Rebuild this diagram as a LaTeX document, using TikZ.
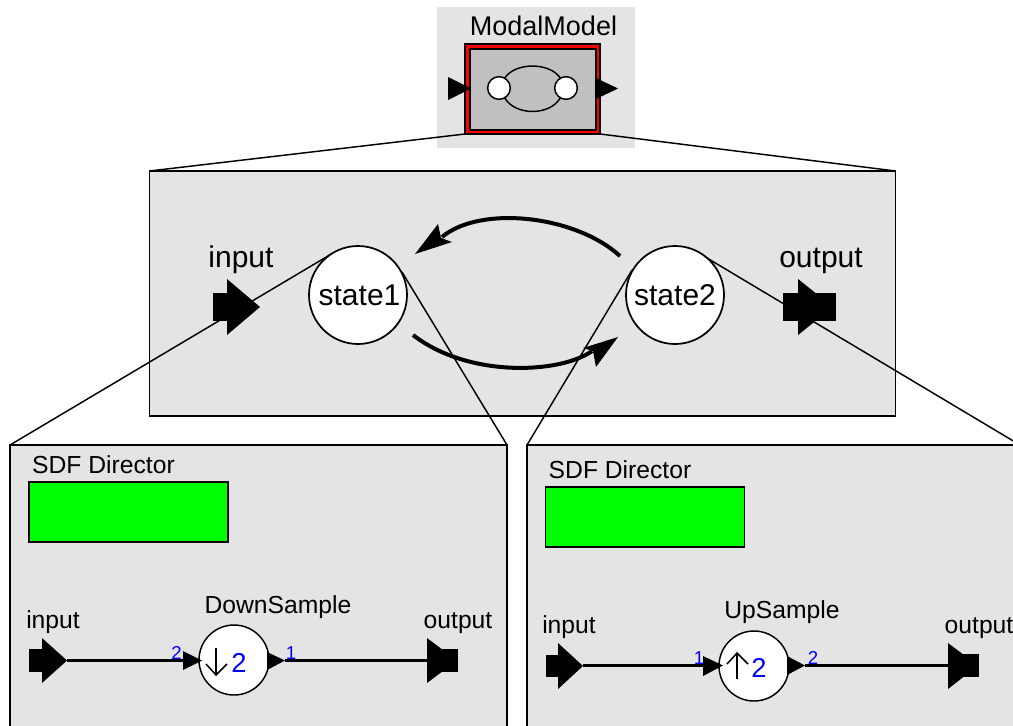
\documentclass[tikz,border=0pt]{standalone}
\usepackage{fontspec}
\setmainfont{Liberation Sans}
\definecolor{panel}{HTML}{E4E4E4}
\definecolor{inner}{HTML}{C0C0C0}
\tikzset{
 panelbox/.style={draw=black,fill=panel,line width=1.1pt,inner sep=0pt,outer sep=0pt},
 dirbox/.style={draw=black,fill=green,line width=1.1pt,inner sep=0pt,outer sep=0pt},
 state/.style={circle,draw=black,fill=white,line width=1.3pt,inner sep=0pt,outer sep=0pt,minimum size=73.5pt},
 actor/.style={circle,draw=black,fill=white,line width=1.1pt,inner sep=0pt,outer sep=0pt,minimum size=52.5pt},
 mini/.style={circle,draw=black,fill=white,line width=1.1pt,inner sep=0pt,outer sep=0pt,minimum size=17pt},
 lblbig/.style={anchor=base,inner sep=0pt,font=\fontsize{22.5}{24}\selectfont},
 lblmid/.style={anchor=base,inner sep=0pt,font=\fontsize{20.25}{22}\selectfont},
 lblsm/.style={anchor=base,inner sep=0pt,font=\fontsize{18.5}{20}\selectfont},
 lblnum/.style={anchor=base,inner sep=0pt,text=blue,font=\fontsize{14}{16}\selectfont},
 lblrate/.style={anchor=base,inner sep=0pt,text=blue,font=\fontsize{20.5}{22}\selectfont},
 thin link/.style={draw=black,line width=1.1pt},
 wire/.style={draw=black,line width=2.4pt},
 transition/.style={draw=black,line width=3pt},
 solid port/.style={fill=black,draw=none},
}
\begin{document}
\begin{tikzpicture}[x=0.75pt,y=-0.75pt]
\useasboundingbox (0,0) rectangle (1013,725);
\clip (0,0) rectangle (1013,725);
% top icon
\fill[panel] (437,7) rectangle (635,148);
% panels, as nodes of measured size
\node[panelbox,minimum width=559.5pt,minimum height=183.75pt] (mid) at (522.5,293.5) {};
\node[panelbox,minimum width=372.75pt,minimum height=225pt] (leftp) at (258.5,595) {};
\node[panelbox,minimum width=369.75pt,minimum height=225pt] (rightp) at (773.5,595) {};
% modal model icon
\node[draw=black,fill=red,line width=1.1pt,inner sep=0pt,outer sep=0pt,minimum width=101.25pt,minimum height=67.5pt] (modal) at (532.5,89) {};
\node[draw=black,fill=inner,line width=1.1pt,inner sep=0pt,minimum width=94.5pt,minimum height=60.75pt] (modalin) at (533,89.5) {};
\fill[solid port] (448,77) -- (471,88.5) -- (448,100) -- cycle;
\fill[solid port] (596,78) -- (618,88.5) -- (596,99) -- cycle;
\node[mini] (ma) at (499,88) {};
\node[mini] (mb) at (566,88) {};
\draw[thin link] (ma.60) .. controls (515,62) and (550,62) .. (mb.120);
\draw[thin link] (ma.-60) .. controls (515,116) and (550,116) .. (mb.-120);
\node[lblmid] (title) at (543.5,35) {ModalModel};
\draw[thin link] (modal.south west) -- (mid.north west);
\draw[thin link] (modal.south east) -- (mid.north east);
% transitions
\coordinate (ts) at (620,256); \coordinate (te) at (442,237);
\coordinate (bs) at (413,335); \coordinate (be) at (592,351);
\draw[transition] (ts) .. controls (575,215) and (480,205) .. (te);
\fill[solid port] (415,254) -- (438,224) -- (441,238) -- (452,242) -- cycle;
\draw[transition] (bs) .. controls (470,379) and (562,373) .. (be);
\fill[solid port] (618,337) -- (583,348) -- (593,351) -- (596,367) -- cycle;
% middle ports
\fill[solid port] (213,293) rectangle (227,321);
\fill[solid port] (227,279) -- (260,307) -- (227,335) -- cycle;
\fill[solid port] (783,293) rectangle (836,321);
\fill[solid port] (798,279) -- (833,307) -- (798,335) -- cycle;
\node[lblbig] (minl) at (241,267) {input};
\node[lblbig] (moutl) at (821,267) {output};
% zoom lines
\coordinate (s1a) at (333,253); \coordinate (s1b) at (402,272);
\coordinate (s2a) at (632,270); \coordinate (s2b) at (707,258);
\draw[thin link] (leftp.north west) -- (s1a);
\draw[thin link] (leftp.north east) -- (s1b);
\draw[thin link] (rightp.north west) -- (s2a);
\draw[thin link] (rightp.north east) -- (s2b);
\node[state] (state1) at (358,295) {};
\node[state] (state2) at (675,295) {};
\node[lblbig] (state1t) at (359.5,305) {state1};
\node[lblbig] (state2t) at (675,305) {state2};
% left panel
\node[dirbox,minimum width=149.25pt,minimum height=45pt] (dirl) at (128.5,512) {};
\node[lblsm] (dirlt) at (103.5,473) {SDF Director};
\fill[solid port] (29,649) rectangle (42,672);
\fill[solid port] (42,638) -- (67,660.5) -- (42,683) -- cycle;
\fill[solid port] (442,649) rectangle (458,672);
\fill[solid port] (427,638) -- (457,660.5) -- (427,683) -- cycle;
\coordinate (lin) at (67,660.5); \coordinate (lout) at (428,660.5);
\coordinate (lai) at (202,660.5); \coordinate (lao) at (285,660.5);
\draw[wire] (lin) -- (lai);
\draw[wire] (lao) -- (lout);
\node[actor] (down) at (234,660) {};
\fill[solid port] (183,651) -- (202,660.5) -- (183,670) -- cycle;
\fill[solid port] (267,652) -- (285,660.5) -- (267,670) -- cycle;
\draw[thin link] (216,648) -- (216,675);
\draw[thin link] (206,664) -- (216,675) -- (227,664);
\node[lblrate] (ldr) at (239,672.5) {2};
\node[lblnum] (ln2) at (176.5,659) {2};
\node[lblnum] (ln1) at (291,659) {1};
\node[lblsm] (linl) at (53,628) {input};
\node[lblsm] (loutl) at (458,628) {output};
\node[lblsm] (dn) at (278,613) {DownSample};
% right panel
\node[dirbox,minimum width=149.25pt,minimum height=45pt] (dirr) at (645,517) {};
\node[lblsm] (dirrt) at (620,478) {SDF Director};
\fill[solid port] (546,655) rectangle (558,677);
\fill[solid port] (558,643) -- (583,666) -- (558,689) -- cycle;
\fill[solid port] (962,654) rectangle (979,677);
\fill[solid port] (948,643) -- (978,665.5) -- (948,689) -- cycle;
\coordinate (rin) at (583,665.5); \coordinate (rout) at (949,665.5);
\coordinate (rai) at (723,665.5); \coordinate (rao) at (805,665.5);
\draw[wire] (rin) -- (rai);
\draw[wire] (rao) -- (rout);
\node[actor] (up) at (754,666) {};
\fill[solid port] (703,656) -- (723,665.5) -- (703,676) -- cycle;
\fill[solid port] (787,656) -- (805,665.5) -- (787,675) -- cycle;
\draw[thin link] (737,653) -- (737,679);
\draw[thin link] (727,664) -- (737,653) -- (748,664);
\node[lblrate] (rdr) at (759,677) {2};
\node[lblnum] (rn1) at (699,664) {1};
\node[lblnum] (rn2) at (813,664) {2};
\node[lblsm] (rinl) at (569,633) {input};
\node[lblsm] (routl) at (979,633) {output};
\node[lblsm] (un) at (782,618) {UpSample};
\end{tikzpicture}
\end{document}
